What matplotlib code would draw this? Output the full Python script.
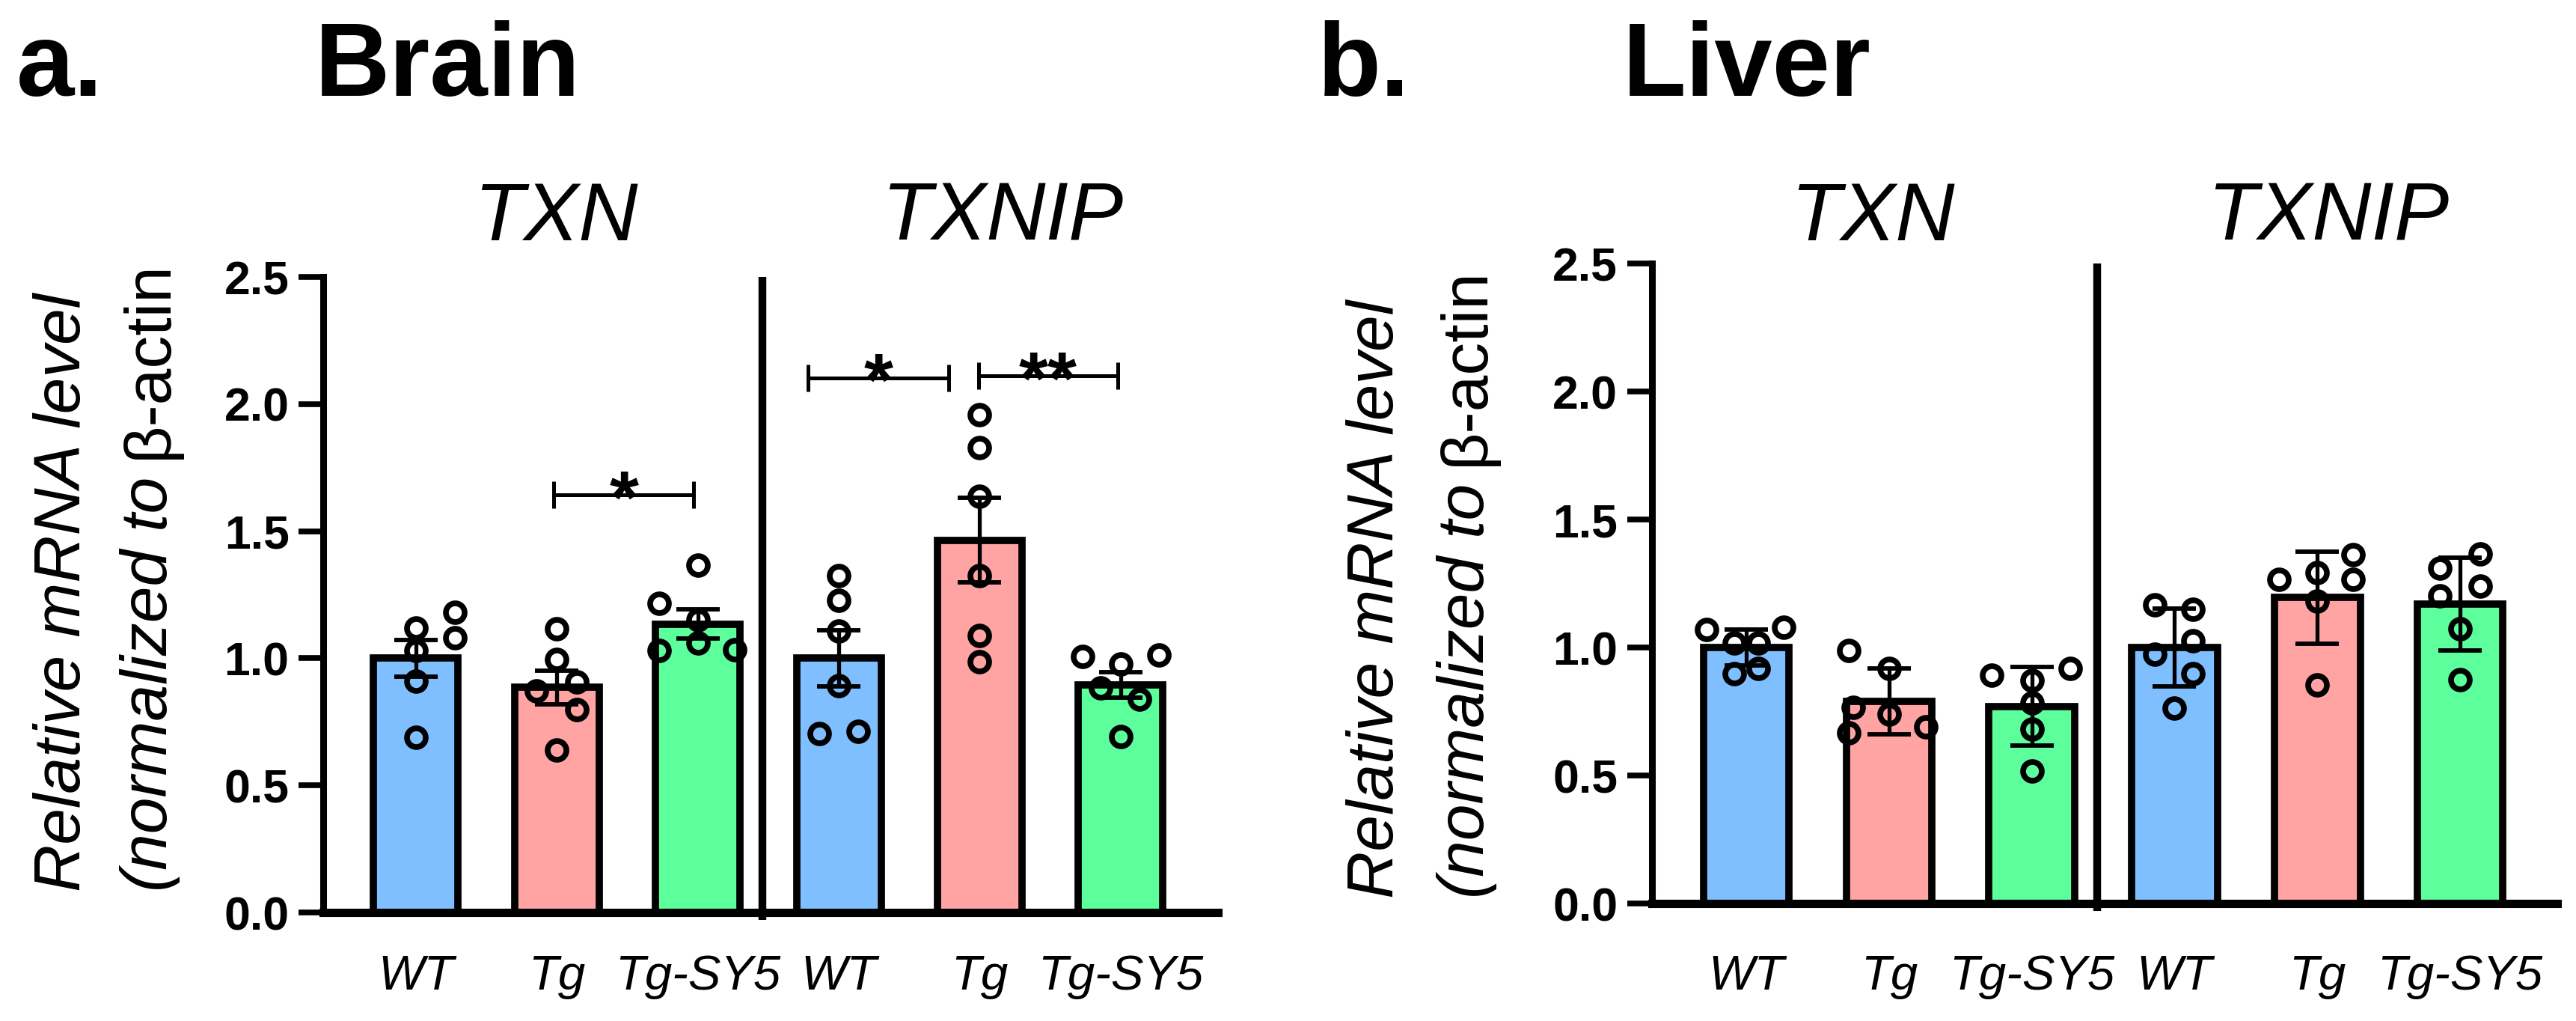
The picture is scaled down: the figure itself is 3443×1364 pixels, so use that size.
import numpy as np
import matplotlib.pyplot as plt

plt.rcParams['font.family'] = ['Liberation Sans', 'DejaVu Sans']

groups = ['WT', 'Tg', 'Tg-SY5', 'WT', 'Tg', 'Tg-SY5']
genes = ['TXN', 'TXNIP']
bar_colors = ['#7fbfff', '#ffa3a3', '#5cff9c'] * 2

# Brain: TXN (WT, Tg, Tg-SY5) then TXNIP (WT, Tg, Tg-SY5)
brain_mean = [1.00, 0.885, 1.135, 1.00, 1.465, 0.895]
brain_err = [0.072, 0.065, 0.058, 0.110, 0.165, 0.050]
brain_points = [
    [1.12, 1.18, 1.08, 1.03, 0.91, 0.69],
    [1.116, 0.995, 0.873, 0.908, 0.799, 0.639],
    [1.365, 1.215, 1.15, 1.03, 1.059, 1.035],
    [1.325, 1.229, 1.108, 0.891, 0.705, 0.713],
    [1.958, 1.828, 1.637, 1.325, 1.09, 0.986],
    [1.007, 0.977, 1.012, 0.882, 0.839, 0.691],
]
brain_sig = [(0.98, 1.97, 1.642, '*'), (2.78, 3.78, 2.104, '*'), (3.99, 4.98, 2.111, '**')]

# Liver
liver_mean = [1.00, 0.79, 0.77, 1.00, 1.195, 1.17]
liver_err = [0.07, 0.128, 0.153, 0.153, 0.18, 0.181]
liver_points = [
    [1.069, 1.078, 1.017, 1.017, 0.897, 0.919],
    [0.988, 0.919, 0.767, 0.741, 0.667, 0.69],
    [0.891, 0.919, 0.871, 0.784, 0.681, 0.517],
    [1.167, 1.15, 1.026, 0.974, 0.897, 0.764],
    [1.362, 1.267, 1.293, 1.267, 1.181, 0.853],
    [1.367, 1.31, 1.241, 1.202, 1.074, 0.874],
]
liver_sig = []

# horizontal scatter of the dots inside each bar (layout only)
brain_jitter = [
    [0, 0.275, 0.275, 0, 0, 0],
    [0, 0, -0.145, 0.14, 0.14, 0],
    [0, -0.275, 0, -0.275, 0, 0.26],
    [0, 0, 0, 0, -0.14, 0.14],
    [0, 0, 0, 0, 0, 0],
    [-0.27, 0, 0.27, -0.14, 0.135, 0],
]
liver_jitter = [
    [-0.28, 0.26, -0.086, 0.086, -0.086, 0.086],
    [-0.28, 0, -0.25, 0, -0.28, 0.26],
    [-0.28, 0.27, 0, 0, 0, 0],
    [-0.14, 0.13, 0.13, -0.14, 0.13, 0],
    [0.25, -0.27, 0, 0.25, 0, 0],
    [0.14, -0.14, 0.14, -0.14, 0, 0],
]

panels = [
    dict(letter='a.', tissue='Brain', mean=brain_mean, err=brain_err, pts=brain_points,
         jit=brain_jitter, sig=brain_sig, rect=[0.1256, 0.1063, 0.3472, 0.6224],
         xlim=(-0.655, 5.69), xpad=40, letter_x=0.0064, tissue_x=0.1223,
         gene_x=[0.2158, 0.3892], ylab_x=[0.0244, 0.0581], ylab_y=0.1270),
    dict(letter='b.', tissue='Liver', mean=liver_mean, err=liver_err, pts=liver_points,
         jit=liver_jitter, sig=liver_sig, rect=[0.6413, 0.1151, 0.3514, 0.6268],
         xlim=(-0.66, 5.68), xpad=49, letter_x=0.5115, tissue_x=0.630,
         gene_x=[0.727, 0.9039], ylab_x=[0.5344, 0.5693], ylab_y=0.1205),
]

fig = plt.figure(figsize=(34.43, 13.64), dpi=100)
x = np.arange(len(groups))

for p in panels:
    ax = fig.add_axes(p['rect'])
    ax.bar(x, p['mean'], width=0.6, color=bar_colors, edgecolor='black',
           linewidth=7, zorder=1)
    for i in range(len(groups)):
        xs = x[i] + np.array(p['jit'][i])
        ax.plot(xs, p['pts'][i], 'o', ms=18, mfc='none', mec='black', mew=5.5, zorder=3)
    ax.errorbar(x, p['mean'], yerr=p['err'], fmt='none', ecolor='black',
                elinewidth=3.8, capsize=21, capthick=4.2, zorder=4)

    # divider between the two genes
    ax.plot([2.46, 2.46], [-0.03, 2.5], color='black', lw=7.5, clip_on=False,
            solid_capstyle='butt', zorder=5)

    for x1, x2, y, lab in p['sig']:
        ax.errorbar((x1 + x2) / 2, y, xerr=(x2 - x1) / 2, fmt='none', ecolor='black',
                    elinewidth=3.6, capsize=13, capthick=3.6)
        ax.annotate(lab, ((x1 + x2) / 2, y), xytext=(0, -27), textcoords='offset points',
                    ha='center', va='baseline', fontsize=72, fontweight='bold')

    ax.set_xlim(p['xlim'])
    ax.set_ylim(0, 2.5)
    ax.set_yticks([0, 0.5, 1.0, 1.5, 2.0, 2.5], ['0.0', '0.5', '1.0', '1.5', '2.0', '2.5'])
    ax.set_xticks(x, groups)
    for lbl in ax.get_xticklabels():
        lbl.set_fontstyle('italic')
        lbl.set_fontsize(47)
    for lbl in ax.get_yticklabels():
        lbl.set_fontweight('bold')
        lbl.set_fontsize(45)
    ax.tick_params(axis='x', length=0, pad=p['xpad'])
    ax.tick_params(axis='y', length=24, width=5.5, pad=9)
    ax.spines['top'].set_visible(False)
    ax.spines['right'].set_visible(False)
    ax.spines['left'].set_linewidth(6.5)
    ax.spines['bottom'].set_linewidth(8)

    fig.text(p['letter_x'], 0.9062, p['letter'], fontsize=100, fontweight='bold', va='baseline')
    fig.text(p['tissue_x'], 0.9062, p['tissue'], fontsize=100, fontweight='bold', va='baseline')
    for gx, g in zip(p['gene_x'], genes):
        fig.text(gx, 0.7647, g, fontsize=79, style='italic', ha='center', va='baseline')

    # two-line y label, second line partly upright
    fig.text(p['ylab_x'][0], p['ylab_y'], 'Relative mRNA level', fontsize=63,
             style='italic', rotation=90, ha='center', va='bottom')
    t2 = fig.text(p['ylab_x'][1], p['ylab_y'], '(normalized to', fontsize=63,
                  style='italic', rotation=90, ha='center', va='bottom')
    ax.annotate('\u03b2-actin', xy=(0.5, 1.0), xycoords=t2, xytext=(0, 17),
                textcoords='offset points', fontsize=63, rotation=90,
                ha='center', va='bottom')

fig.savefig('out.png', dpi=100)
